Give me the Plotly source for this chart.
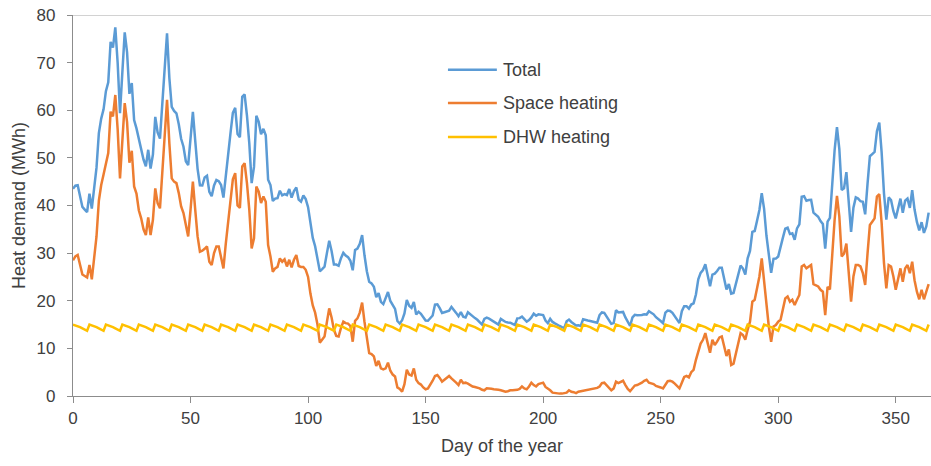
import plotly.graph_objects as go

# Daily space-heating demand (MWh), day 0 .. 364
space_heating = [
    28.5, 29.3, 29.6, 27.5, 25.5, 25.2, 24.9, 27.5, 24.5, 29.0,
    33.5, 41.0, 44.3, 46.5, 49.0, 51.0, 59.7, 58.7, 63.2, 56.0,
    45.7, 53.0, 61.5, 57.5, 49.0, 51.5, 44.0, 42.5, 39.0, 37.3,
    35.0, 33.8, 37.5, 33.8, 37.0, 43.6, 40.5, 39.4, 46.8, 54.5,
    62.2, 53.0, 45.7, 45.0, 44.7, 42.6, 39.8, 38.4, 35.6, 33.5,
    39.1, 45.0, 39.1, 33.5, 30.3, 30.5, 30.9, 31.4, 28.2, 27.5,
    30.0, 31.4, 31.4, 29.3, 26.8, 32.0, 36.3, 41.0, 45.5, 46.8,
    40.0, 39.5, 48.2, 48.9, 44.7, 39.1, 31.0, 33.1, 44.0, 42.9,
    40.5, 41.9, 40.8, 31.7, 29.3, 26.1, 26.8, 27.1, 28.9, 28.2,
    28.7, 27.2, 28.6, 27.0, 28.6, 29.6, 27.3, 27.1, 27.1, 26.5,
    25.0, 21.5, 19.0, 17.5, 15.0, 11.2, 11.8, 12.5, 15.5, 18.4,
    16.5, 13.9, 12.6, 12.5, 14.3, 15.6, 15.3, 15.2, 14.7, 11.4,
    15.8, 16.3, 17.5, 19.6, 15.6, 12.5, 9.0, 8.8, 8.3, 6.3,
    7.4, 5.8, 5.6, 5.8, 7.0, 5.3, 4.5, 4.1, 1.8, 1.5,
    0.9, 2.5, 5.5, 4.5, 4.3, 5.8, 3.4, 2.7, 2.4, 1.8,
    1.4, 1.6, 2.3, 3.2, 4.2, 4.4, 3.8, 3.0, 3.4, 3.8,
    4.2, 3.7, 3.3, 2.8, 2.3, 3.4, 2.7, 2.8, 2.6, 2.3,
    2.0, 1.9, 1.8, 1.6, 1.3, 1.2, 1.6, 1.6, 1.5, 1.4,
    1.4, 1.3, 1.2, 1.0, 0.9, 1.0, 1.2, 1.2, 1.2, 1.3,
    1.5, 2.0, 1.6, 1.4, 2.0, 2.8, 2.3, 2.0, 2.5, 2.7,
    2.8, 1.9, 1.6, 1.2, 0.7, 0.6, 0.6, 0.5, 0.5, 0.6,
    0.7, 1.2, 0.9, 0.8, 0.6, 0.9, 1.0, 1.1, 1.2, 1.2,
    1.3, 1.4, 1.5, 1.7, 2.0, 2.7, 2.8, 2.3, 1.8, 1.2,
    1.6, 3.0, 2.7, 2.9, 3.2, 2.3, 1.5, 1.0, 1.5, 2.2,
    2.3, 2.5, 2.8, 3.2, 3.4, 2.8, 2.6, 2.5, 2.1, 2.0,
    1.8, 1.6, 2.5, 3.1, 3.2, 3.0, 2.6, 2.2, 1.6, 2.8,
    4.0, 4.2, 3.9, 5.0, 5.5, 7.6, 9.5, 11.0, 11.8, 13.2,
    11.1, 9.1, 11.8, 10.7, 11.4, 12.3, 12.5, 10.4, 8.4, 9.8,
    6.5, 6.8, 9.0, 11.1, 13.2, 12.8, 11.8, 13.9, 15.6, 19.8,
    20.2, 22.6, 25.1, 28.9, 24.3, 18.8, 14.6, 11.4, 14.6, 14.9,
    15.6, 16.0, 18.4, 20.5, 20.9, 19.8, 20.2, 19.1, 20.2, 21.2,
    27.2, 27.5, 26.8, 27.2, 27.5, 23.5, 23.3, 23.0, 22.3, 21.9,
    17.0, 22.9, 22.4, 30.7, 37.0, 42.0, 37.7, 29.3, 29.9, 32.0,
    25.8, 19.8, 25.1, 27.5, 27.5, 27.2, 25.8, 23.3, 29.9, 35.9,
    36.6, 37.3, 41.9, 42.4, 36.3, 27.9, 22.6, 27.5, 27.2, 25.1,
    22.3, 24.7, 26.8, 24.0, 26.8, 27.5, 25.8, 28.2, 24.3, 21.9,
    20.3, 22.3, 20.3, 21.9, 23.5,
]

# Daily domestic hot water demand (MWh), one row per week
dhw_heating = [
    15.0, 14.85, 14.65, 14.45, 14.2, 13.95, 13.7,
    15.0, 14.85, 14.65, 14.45, 14.2, 13.95, 13.7,
    15.0, 14.85, 14.65, 14.45, 14.2, 13.95, 13.7,
    15.0, 14.85, 14.65, 14.45, 14.2, 13.95, 13.7,
    15.0, 14.85, 14.65, 14.45, 14.2, 13.95, 13.7,
    15.0, 14.85, 14.65, 14.45, 14.2, 13.95, 13.7,
    15.0, 14.85, 14.65, 14.45, 14.2, 13.95, 13.7,
    15.0, 14.85, 14.65, 14.45, 14.2, 13.95, 13.7,
    15.0, 14.85, 14.65, 14.45, 14.2, 13.95, 13.7,
    15.0, 14.85, 14.65, 14.45, 14.2, 13.95, 13.7,
    15.0, 14.85, 14.65, 14.45, 14.2, 13.95, 13.7,
    15.0, 14.85, 14.65, 14.45, 14.2, 13.95, 13.7,
    15.0, 14.85, 14.65, 14.45, 14.2, 13.95, 13.7,
    15.0, 14.85, 14.65, 14.45, 14.2, 13.95, 13.7,
    15.0, 14.85, 14.65, 14.45, 14.2, 13.95, 13.7,
    15.0, 14.85, 14.65, 14.45, 14.2, 13.95, 13.7,
    15.0, 14.85, 14.65, 14.45, 14.2, 13.95, 13.7,
    15.0, 14.85, 14.65, 14.45, 14.2, 13.95, 13.7,
    15.0, 14.85, 14.65, 14.45, 14.2, 13.95, 13.7,
    15.0, 14.85, 14.65, 14.45, 14.2, 13.95, 13.7,
    15.0, 14.85, 14.65, 14.45, 14.2, 13.95, 13.7,
    15.0, 14.85, 14.65, 14.45, 14.2, 13.95, 13.7,
    15.0, 14.85, 14.65, 14.45, 14.2, 13.95, 13.7,
    15.0, 14.85, 14.65, 14.45, 14.2, 13.95, 13.7,
    15.0, 14.85, 14.65, 14.45, 14.2, 13.95, 13.7,
    15.0, 14.85, 14.65, 14.45, 14.2, 13.95, 13.7,
    15.0, 14.85, 14.65, 14.45, 14.2, 13.95, 13.7,
    15.0, 14.85, 14.65, 14.45, 14.2, 13.95, 13.7,
    15.0, 14.85, 14.65, 14.45, 14.2, 13.95, 13.7,
    15.0, 14.85, 14.65, 14.45, 14.2, 13.95, 13.7,
    15.0, 14.85, 14.65, 14.45, 14.2, 13.95, 13.7,
    15.0, 14.85, 14.65, 14.45, 14.2, 13.95, 13.7,
    15.0, 14.85, 14.65, 14.45, 14.2, 13.95, 13.7,
    15.0, 14.85, 14.65, 14.45, 14.2, 13.95, 13.7,
    15.0, 14.85, 14.65, 14.45, 14.2, 13.95, 13.7,
    15.0, 14.85, 14.65, 14.45, 14.2, 13.95, 13.7,
    15.0, 14.85, 14.65, 14.45, 14.2, 13.95, 13.7,
    15.0, 14.85, 14.65, 14.45, 14.2, 13.95, 13.7,
    15.0, 14.85, 14.65, 14.45, 14.2, 13.95, 13.7,
    15.0, 14.85, 14.65, 14.45, 14.2, 13.95, 13.7,
    15.0, 14.85, 14.65, 14.45, 14.2, 13.95, 13.7,
    15.0, 14.85, 14.65, 14.45, 14.2, 13.95, 13.7,
    15.0, 14.85, 14.65, 14.45, 14.2, 13.95, 13.7,
    15.0, 14.85, 14.65, 14.45, 14.2, 13.95, 13.7,
    15.0, 14.85, 14.65, 14.45, 14.2, 13.95, 13.7,
    15.0, 14.85, 14.65, 14.45, 14.2, 13.95, 13.7,
    15.0, 14.85, 14.65, 14.45, 14.2, 13.95, 13.7,
    15.0, 14.85, 14.65, 14.45, 14.2, 13.95, 13.7,
    15.0, 14.85, 14.65, 14.45, 14.2, 13.95, 13.7,
    15.0, 14.85, 14.65, 14.45, 14.2, 13.95, 13.7,
    15.0, 14.85, 14.65, 14.45, 14.2, 13.95, 13.7,
    15.0, 14.85, 14.65, 14.45, 14.2, 13.95, 13.7,
    15.0,
]

days = list(range(len(space_heating)))
total = [round(s + d, 2) for s, d in zip(space_heating, dhw_heating)]

x_ticks = [0, 50, 100, 150, 200, 250, 300, 350]
y_ticks = [0, 10, 20, 30, 40, 50, 60, 70, 80]

series = [
    ("Total", total, "#5b9bd5"),
    ("Space heating", space_heating, "#ed7d31"),
    ("DHW heating", dhw_heating, "#ffc000"),
]

FONT = "Liberation Sans, Arial, sans-serif"
TEXT = "#404040"
AXIS = "#8c8c8c"

fig = go.Figure()
for name, values, color in series:
    fig.add_trace(go.Scatter(
        x=days, y=values, name=name, mode="lines",
        line=dict(color=color, width=2.5),
        showlegend=False,
    ))

# Legend drawn as short line samples with labels beside them
legend_rows = [0.856, 0.769, 0.680]
for (name, _, color), yy in zip(series, legend_rows):
    fig.add_shape(type="line", xref="paper", yref="paper",
                  x0=0.437, x1=0.494, y0=yy, y1=yy,
                  line=dict(color=color, width=2.5))
    fig.add_annotation(xref="paper", yref="paper", x=0.499, y=yy,
                       text=name, showarrow=False, xanchor="left",
                       yanchor="middle",
                       font=dict(family=FONT, size=18, color=TEXT))

# Top border line at the axis maximum
fig.add_shape(type="line", xref="paper", yref="y", x0=0, x1=1, y0=80, y1=80,
              line=dict(color="#a6a6a6", width=1.2))

fig.update_layout(
    width=931, height=466,
    margin=dict(l=73, r=0, t=15, b=70),
    paper_bgcolor="white", plot_bgcolor="white",
    font=dict(family=FONT, size=16, color=TEXT),
)
fig.update_xaxes(
    range=[0, 365], tickvals=x_ticks, ticks="outside", ticklen=6,
    tickcolor=AXIS, showline=True, linecolor=AXIS, linewidth=1.2,
    showgrid=False, zeroline=False,
    tickfont=dict(family=FONT, size=17, color=TEXT),
    title=dict(text="Day of the year", standoff=12,
               font=dict(family=FONT, size=18, color=TEXT)),
)
fig.update_yaxes(
    range=[0, 80], tickvals=y_ticks, ticks="outside", ticklen=5,
    tickcolor=AXIS, showline=True, linecolor=AXIS, linewidth=1.2,
    showgrid=False, zeroline=False,
    tickfont=dict(family=FONT, size=17, color=TEXT),
    ticklabelstandoff=8,
    title=dict(text="Heat demand (MWh)", standoff=6,
               font=dict(family=FONT, size=18, color=TEXT)),
)

fig.write_html("out.html")
